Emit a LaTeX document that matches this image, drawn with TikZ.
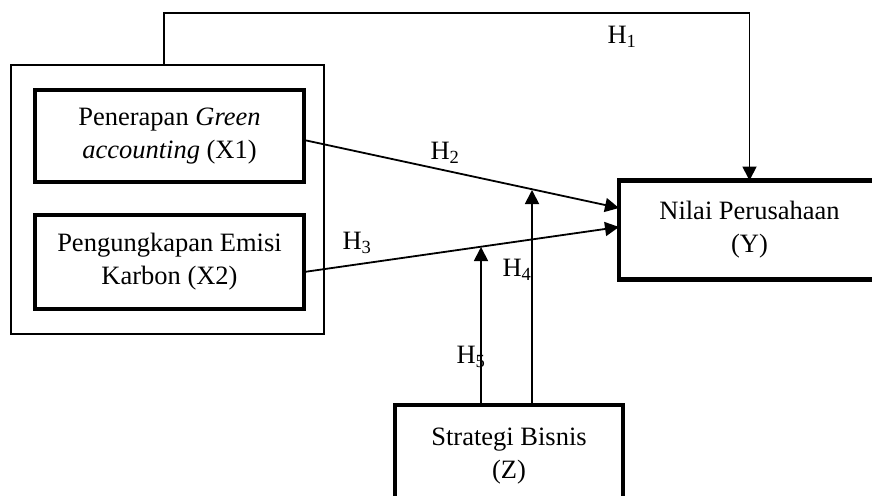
\documentclass[tikz,border=0pt]{standalone}
\usepackage{fontspec}
\setmainfont{Liberation Serif}
\usetikzlibrary{arrows.meta,calc}

\begin{document}
\begin{tikzpicture}[x=1pt,y=-1pt,
		font=\fontsize{26.5}{33}\selectfont,
		varbox/.style={draw,line width=4.5pt,align=center,outer sep=0pt,inner sep=0pt},
		link/.style={line width=1.8pt,-{Triangle[length=14pt,width=14pt]}},
		lab/.style={inner sep=0pt}]
		
		\useasboundingbox (0,0) rectangle (872,495);
		\clip (0,0) rectangle (872,495);
		
		\node[draw,line width=1.5pt,minimum width=313pt,minimum height=269pt,outer sep=0pt] (outer) at (167.5,199.5) {};
		
		\node[varbox,minimum width=269pt,minimum height=92pt] (x1) at (169.5,136) {Penerapan \textit{Green}\\\textit{accounting} (X1)};
		\node[varbox,minimum width=269pt,minimum height=94pt] (x2) at (169.5,262) {Pengungkapan Emisi\\Karbon (X2)};
		\node[varbox,minimum width=261pt,minimum height=99pt] (y) at (749.5,230) {Nilai Perusahaan\\(Y)};
		\node[varbox,minimum width=228pt,minimum height=102pt] (z) at (509,456) {Strategi Bisnis\\(Z)};
		
		\coordinate (t1) at (164,13);
		\coordinate (m2) at (532,190);
		\coordinate (m3) at (481,247);
		
		\draw[link] (t1 |- outer.north) -- (t1) -| (y.north);
		\draw[link] ($(x1.east)+(0,4)$) -- ($(y.west)+(0,-22)$);
		\draw[link] ($(x2.east)+(0,10)$) -- ($(y.west)+(0,-3)$);
		\draw[link] (z.north -| m2) -- (m2);
		\draw[link] (z.north -| m3) -- (m3);
		
		\node[lab] (h1) at (622,37) {H\textsubscript{1}};
		\node[lab] (h2) at (445,153) {H\textsubscript{2}};
		\node[lab] (h3) at (357,243) {H\textsubscript{3}};
		\node[lab] (h4) at (517,270) {H\textsubscript{4}};
		\node[lab] (h5) at (471,357) {H\textsubscript{5}};
		
	\end{tikzpicture}
\end{document}
